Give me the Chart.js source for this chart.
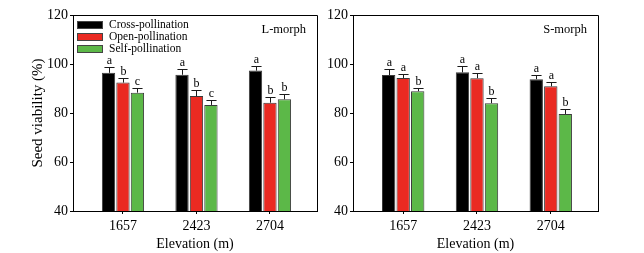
<!DOCTYPE html>
<html>
<head>
<meta charset="utf-8">
<script src="https://cdn.jsdelivr.net/npm/chart.js@4/dist/chart.umd.min.js"></script>
<style>
body { margin: 0; background: #fff; }
#wrap { position: relative; width: 644px; height: 253px; }
canvas { position: absolute; top: 0; }
</style>
</head>
<body>
<div id="wrap">
  <canvas id="leftChart" width="330" height="253" style="left:0"></canvas>
  <canvas id="rightChart" width="324" height="253" style="left:320px"></canvas>
</div>
<script>
// categories / series
const elevations = ["1657", "2423", "2704"];
const seriesNames = ["Cross-pollination", "Open-pollination", "Self-pollination"];
const seriesColors = ["#000000", "#ea2a22", "#5cb848"];
const yTicks = [40, 60, 80, 100, 120];

// L-morph
const lCross = [96.4, 95.6, 97.3];
const lOpen = [92.4, 86.9, 84.2];
const lSelf = [88.3, 83.3, 85.6];
const lCrossErr = [2.2, 2.4, 1.9];
const lOpenErr = [1.8, 2.4, 2.2];
const lSelfErr = [1.8, 2.0, 2.2];
const lCrossLetters = ["a", "a", "a"];
const lOpenLetters = ["b", "b", "b"];
const lSelfLetters = ["c", "c", "b"];

// S-morph
const sCross = [95.5, 96.6, 93.8];
const sOpen = [94.3, 94.2, 90.9];
const sSelf = [88.9, 84.0, 79.6];
const sCrossErr = [2.5, 2.5, 1.7];
const sOpenErr = [1.5, 2.0, 1.8];
const sSelfErr = [1.4, 2.0, 1.9];
const sCrossLetters = ["a", "a", "a"];
const sOpenLetters = ["a", "a", "a"];
const sSelfLetters = ["b", "b", "b"];

const FONT = "Liberation Serif";
Chart.defaults.font.family = FONT;
Chart.defaults.color = "#000";

function errorBarPlugin(values, errors, letters) {
    return {
        id: "errbars",
        afterDatasetsDraw(chart) {
            const ctx = chart.ctx;
            const yScale = chart.scales.y;
            ctx.save();
            ctx.strokeStyle = "#1a1a1a";
            ctx.lineWidth = 1;
            ctx.fillStyle = "#000";
            ctx.font = "12px " + FONT;
            ctx.textAlign = "center";
            ctx.textBaseline = "bottom";
            values.forEach((series, d) => {
                const meta = chart.getDatasetMeta(d);
                series.forEach((v, i) => {
                    const bar = meta.data[i];
                    const x = Math.round(bar.x) + 0.5;
                    const top = Math.round(yScale.getPixelForValue(v + errors[d][i])) + 0.5;
                    const cap = bar.width * 0.38;
                    ctx.beginPath();
                    ctx.moveTo(x, bar.y);
                    ctx.lineTo(x, top);
                    ctx.moveTo(x - cap, top);
                    ctx.lineTo(x + cap, top);
                    ctx.stroke();
                    ctx.fillText(letters[d][i], x, top - 1);
                });
            });
            ctx.restore();
        }
    };
}

function framePlugin(morph, showLegend) {
    return {
        id: "frame",
        afterDraw(chart) {
            const ctx = chart.ctx;
            const a = chart.chartArea;
            ctx.save();
            ctx.strokeStyle = "#000";
            ctx.lineWidth = 1;
            ctx.beginPath();
            ctx.moveTo(a.left, Math.round(a.top) + 0.5);
            ctx.lineTo(Math.round(a.right) + 0.5, Math.round(a.top) + 0.5);
            ctx.lineTo(Math.round(a.right) + 0.5, a.bottom);
            ctx.stroke();

            ctx.font = "12.5px " + FONT;
            ctx.textAlign = "right";
            ctx.textBaseline = "middle";
            ctx.fillStyle = "#000";
            ctx.fillText(morph, a.right - 11, a.top + 15);

            if (showLegend) {
                ctx.font = "11.5px " + FONT;
                ctx.textAlign = "left";
                chart.data.datasets.forEach((ds, k) => {
                    const bx = a.left + 4;
                    const by = a.top + 6 + k * 12;
                    ctx.fillStyle = ds.backgroundColor;
                    ctx.fillRect(bx, by, 26, 8);
                    ctx.strokeStyle = "#444";
                    ctx.strokeRect(bx + 0.5, by + 0.5, 25, 7);
                    ctx.fillStyle = "#000";
                    ctx.fillText(ds.label, a.left + 36, by + 4);
                });
            }
            ctx.restore();
        }
    };
}

function makeChart(id, morph, values, errors, letters, yWidth, rightPad, showTitle, showLegend) {
    const ctx = document.getElementById(id).getContext("2d");
    return new Chart(ctx, {
        type: "bar",
        data: {
            datasets: values.map((series, d) => ({
                label: seriesNames[d],
                data: series.map((v, i) => ({ x: i + 1, y: v })),
                backgroundColor: seriesColors[d],
                borderColor: "#3a3a3a",
                borderWidth: 1,
                categoryPercentage: 0.59,
                barPercentage: 0.92,
            })),
        },
        options: {
            responsive: false,
            animation: false,
            layout: { padding: { top: 15, right: rightPad, bottom: 0, left: 0 } },
            plugins: { legend: { display: false }, tooltip: { enabled: false } },
            scales: {
                x: {
                    type: "linear",
                    min: 0.32,
                    max: 3.64,
                    offset: false,
                    afterBuildTicks: (axis) => {
                        axis.ticks = elevations.map((e, i) => ({ value: i + 1 }));
                    },
                    afterFit: (axis) => { axis.height = 42; },
                    ticks: {
                        callback: (v) => elevations[v - 1],
                        font: { size: 14 },
                        color: "#000",
                        padding: 4,
                        maxRotation: 0,
                        autoSkip: false,
                    },
                    grid: { offset: false, drawOnChartArea: false, tickLength: 3, color: "#000" },
                    border: { color: "#000" },
                    title: { display: true, text: "Elevation (m)", font: { size: 14 }, color: "#000", padding: 0 },
                },
                y: {
                    min: 40,
                    max: 120,
                    afterBuildTicks: (axis) => {
                        axis.ticks = yTicks.map((v) => ({ value: v }));
                    },
                    afterFit: (axis) => { axis.width = yWidth; },
                    ticks: { font: { size: 14 }, color: "#000", padding: 2 },
                    grid: { drawOnChartArea: false, tickLength: 3, color: "#000" },
                    border: { color: "#000" },
                    title: {
                        display: showTitle,
                        text: "Seed viability (%)",
                        font: { size: 15 },
                        color: "#000",
                        padding: { top: 29, bottom: 0 },
                    },
                },
            },
        },
        plugins: [errorBarPlugin(values, errors, letters), framePlugin(morph, showLegend)],
    });
}

makeChart("leftChart", "L-morph",
    [lCross, lOpen, lSelf],
    [lCrossErr, lOpenErr, lSelfErr],
    [lCrossLetters, lOpenLetters, lSelfLetters],
    73, 13, true, true);

makeChart("rightChart", "S-morph",
    [sCross, sOpen, sSelf],
    [sCrossErr, sOpenErr, sSelfErr],
    [sCrossLetters, sOpenLetters, sSelfLetters],
    33, 46, false, false);
</script>
</body>
</html>
